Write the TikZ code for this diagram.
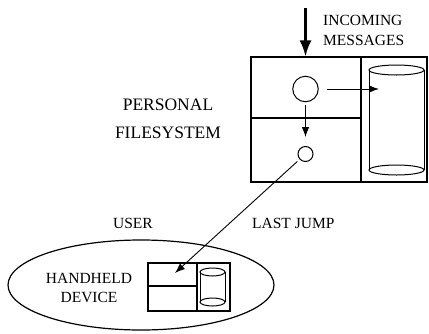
\documentclass[tikz,border=0pt]{standalone}
\usepackage{fontspec}
\setmainfont{Liberation Serif}
\usetikzlibrary{arrows.meta}

\tikzset{
  lbl/.style={font=\fontsize{15.5}{20}\selectfont, inner sep=0pt},
  biglbl/.style={font=\fontsize{17.5}{28}\selectfont, inner sep=0pt, align=center},
  box/.style={draw, line width=1.4pt, inner sep=0pt},
  dot/.style={draw, circle, inner sep=0pt, line width=1pt},
  msg/.style={-{Latex[length=10pt,width=7.5pt]}, line width=0.9pt},
}

\begin{document}
\begin{tikzpicture}[x=1pt,y=-1pt]
	\useasboundingbox (0,0) rectangle (429,333);
	% personal filesystem
	\node[box, minimum width=176pt, minimum height=125pt] (fs) at (339,119.5) {};
	\draw[line width=1.4pt] (361,57) -- (361,182);
	\draw[line width=1.4pt] (251,118) -- (361,118);
	\draw[line width=1pt] (396.5,70) ellipse (27.5 and 5);
	\draw[line width=1pt] (396.5,170) ellipse (27.5 and 5);
	\draw[line width=1pt] (369,70) -- (369,170);
	\draw[line width=1pt] (424,70) -- (424,170);
	\node[dot, minimum size=25.5pt] (recv) at (305.5,89) {};
	\node[dot, minimum size=15pt] (local) at (305.5,154) {};
	% handheld
	\draw[line width=1.2pt] (141,285) ellipse (133 and 45);
	\node[box, minimum width=82pt, minimum height=48pt] (hh) at (189,287) {};
	\draw[line width=1.4pt] (197,263) -- (197,311);
	\draw[line width=1.1pt] (148,286) -- (197,286);
	\draw[line width=1pt] (212.5,272) ellipse (12.5 and 4);
	\draw[line width=1pt] (212.5,302) ellipse (12.5 and 4);
	\draw[line width=1pt] (200,272) -- (200,302);
	\draw[line width=1pt] (225,272) -- (225,302);
	% labels
	\node[lbl, align=left, anchor=west] (incoming) at (323,30) {INCOMING\\MESSAGES};
	\node[biglbl] (pfs) at (168,119) {PERSONAL\\FILESYSTEM};
	\node[lbl] (user) at (133,223) {USER};
	\node[lbl, anchor=west] (jump) at (252,223) {LAST JUMP};
	\node[lbl, align=center, font=\fontsize{15.5}{19}\selectfont] (device) at (89,287.5) {HANDHELD\\DEVICE};
	% arrows
	\coordinate (src) at (305.5,8);
	\coordinate (store) at (379,89);
	\coordinate (hand) at (175,273);
	\draw[line width=2.2pt, -{Latex[length=16pt,width=12pt]}] (src) -- (src |- fs.north);
	\draw[msg, shorten <=8pt] (recv.east) -- (store);
	\draw[msg, shorten <=3pt, shorten >=9pt] (recv.south) -- (local.north);
	\draw[msg, shorten <=3pt] (local) -- (hand);
\end{tikzpicture}
\end{document}
